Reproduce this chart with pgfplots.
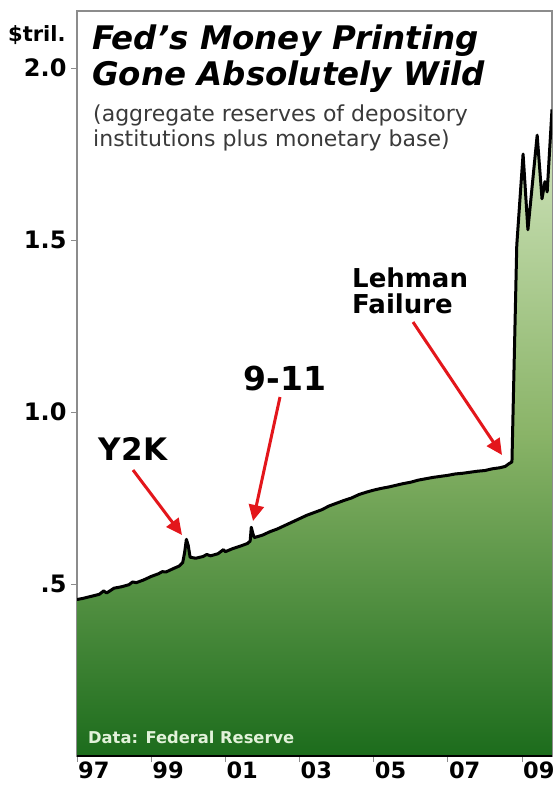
\documentclass[border=0pt]{standalone}
\usepackage{pgfplots}
\pgfplotsset{compat=1.18}
\usepackage{pgfplotstable}
\usepackage{fontspec}
\setmainfont{DejaVu Sans}[ItalicFont={DejaVu Sans Oblique},BoldFont={DejaVu Sans Bold},BoldItalicFont={DejaVu Sans Bold Oblique}]
\usetikzlibrary{arrows.meta}
\definecolor{fedred}{HTML}{E3161B}
\definecolor{gtop}{HTML}{D3E6C0}
\definecolor{gmid}{HTML}{8AB468}
\definecolor{gbot}{HTML}{1C6C1C}
\definecolor{framegray}{HTML}{8C8C8C}
\definecolor{subgray}{HTML}{3A3A3A}
\definecolor{srcgreen}{HTML}{E2F2DA}

\pgfplotstableread{
x y
1997.00 0.455
1997.15 0.458
1997.30 0.462
1997.45 0.466
1997.60 0.470
1997.72 0.480
1997.80 0.474
1997.90 0.481
1998.00 0.488
1998.20 0.492
1998.40 0.498
1998.50 0.506
1998.60 0.504
1998.80 0.512
1999.00 0.522
1999.20 0.530
1999.30 0.536
1999.40 0.535
1999.60 0.545
1999.75 0.552
1999.85 0.562
1999.90 0.590
1999.95 0.630
2000.00 0.612
2000.05 0.578
2000.20 0.575
2000.40 0.580
2000.50 0.586
2000.60 0.582
2000.80 0.588
2000.95 0.600
2001.00 0.594
2001.20 0.603
2001.40 0.610
2001.60 0.618
2001.67 0.625
2001.70 0.665
2001.74 0.648
2001.78 0.635
2002.00 0.642
2002.20 0.652
2002.40 0.660
2002.60 0.670
2002.80 0.680
2003.00 0.690
2003.20 0.700
2003.40 0.708
2003.60 0.716
2003.80 0.727
2004.00 0.735
2004.20 0.743
2004.40 0.750
2004.60 0.760
2004.80 0.767
2005.00 0.773
2005.20 0.778
2005.40 0.782
2005.60 0.787
2005.80 0.792
2006.00 0.796
2006.20 0.802
2006.40 0.806
2006.60 0.810
2006.80 0.813
2007.00 0.816
2007.20 0.820
2007.40 0.822
2007.60 0.825
2007.80 0.828
2008.00 0.830
2008.20 0.835
2008.40 0.838
2008.55 0.842
2008.65 0.850
2008.73 0.855
2008.86 1.485
2009.03 1.750
2009.16 1.530
2009.41 1.805
2009.54 1.620
2009.62 1.670
2009.68 1.640
2009.81 1.880
}\fedbase

\begin{document}
\begin{tikzpicture}
\begin{axis}[
  scale only axis, width=475pt, height=745pt,
  at={(77pt,-11pt)}, anchor=north west,
  xmin=1997, xmax=2009.81, ymin=0, ymax=2.166,
  axis line style={framegray, line width=1.2pt},
  xtick={1997,1999,2001,2003,2005,2007,2009},
  xticklabels={97,99,01,03,05,07,09},
  ytick={0.5,1,1.5,2}, yticklabels={.5,1.0,1.5,2.0},
  xtick pos=lower, ytick pos=left, tick align=outside,
  major tick length=6pt, tick style={framegray, line width=0.8pt},
  x tick label style={font=\fontsize{22.5}{22.5}\selectfont\bfseries, anchor=north west, inner sep=0pt, xshift=1pt, yshift=0pt},
  y tick label style={font=\fontsize{24}{24}\selectfont\bfseries, xshift=-1pt},
]
\addplot[draw=none, top color=gtop, bottom color=gbot, middle color=gmid] table {\fedbase} \closedcycle;
\addplot[black, line width=3pt, line join=round] table {\fedbase};
\draw[black, line width=2pt] (axis cs:1997,0) -- (axis cs:2009.81,0);
\end{axis}
\begin{scope}[x=1pt,y=-1pt]
  \node[anchor=base west, inner sep=0pt, font=\fontsize{32.5}{32.5}\selectfont\bfseries\itshape] at (92,49) {Fed’s Money Printing};
  \node[anchor=base west, inner sep=0pt, font=\fontsize{32.5}{32.5}\selectfont\bfseries\itshape] at (92,85) {Gone Absolutely Wild};
  \node[anchor=base west, inner sep=0pt, text=subgray, font=\fontsize{22}{22}\selectfont] at (93,121) {(aggregate reserves of depository};
  \node[anchor=base west, inner sep=0pt, text=subgray, font=\fontsize{22}{22}\selectfont] at (93,146) {institutions plus monetary base)};
  \node[anchor=base west, inner sep=0pt, font=\fontsize{21}{21}\selectfont\bfseries] at (8,41) {\$tril.};
  \node[anchor=base west, inner sep=0pt, font=\fontsize{16.3}{16.3}\selectfont\bfseries, text=srcgreen] at (88,743) {Data: Federal Reserve};
  \node[anchor=base, inner sep=0pt, font=\fontsize{31}{31}\selectfont\bfseries] at (133,460) {Y2K};
  \node[anchor=base, inner sep=0pt, font=\fontsize{33}{33}\selectfont\bfseries] at (285,390) {9-11};
  \node[anchor=base west, inner sep=0pt, font=\fontsize{26}{26}\selectfont\bfseries] at (352,287) {Lehman};
  \node[anchor=base west, inner sep=0pt, font=\fontsize{26}{26}\selectfont\bfseries] at (352,313) {Failure};
  \draw[fedred, line width=3pt, -{Triangle[length=16pt,width=15pt]}] (133,470) -- (182,535);
  \draw[fedred, line width=3pt, -{Triangle[length=16pt,width=15pt]}] (280,397) -- (253,521);
  \draw[fedred, line width=3pt, -{Triangle[length=16pt,width=15pt]}] (413,322) -- (502,455);
\end{scope}
\pgfresetboundingbox
\path[use as bounding box] (0,0) rectangle (555pt,-785pt);
\end{tikzpicture}
\end{document}
